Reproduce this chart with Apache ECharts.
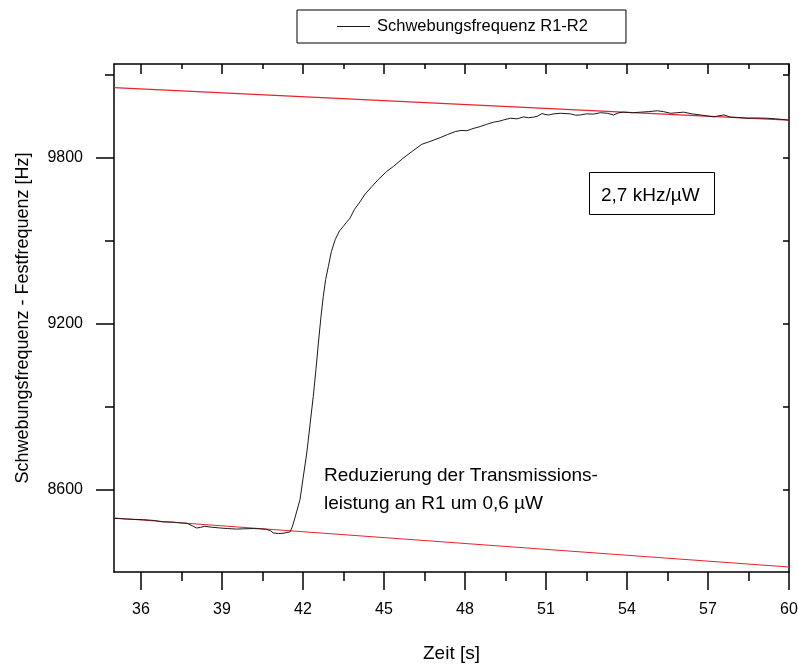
<!DOCTYPE html>
<html>
<head>
<meta charset="utf-8">
<script src="https://cdn.jsdelivr.net/npm/echarts@6/dist/echarts.min.js"></script>
<style>
  html, body { margin: 0; padding: 0; background: #fff; }
  #chart { width: 798px; height: 664px; }
</style>
</head>
<body>
<div id="chart"></div>
<script>
// Beat frequency R1-R2 measured over time (s, Hz)
const beatTime = [
  35.0, 35.5, 36.1, 36.5, 36.8, 37.2, 37.5, 37.7, 37.9, 38.06, 38.2, 38.36, 38.6, 38.92,
  39.2, 39.54, 39.8, 40.16, 40.4, 40.65, 40.8, 40.9, 41.1, 41.27, 41.52, 41.6, 41.7, 41.89,
  42.0, 42.14, 42.26, 42.38, 42.48, 42.57, 42.66, 42.75, 42.84, 42.94, 43.05, 43.19, 43.35,
  43.49, 43.6, 43.74, 43.9, 44.11, 44.3, 44.55, 44.8, 45.1, 45.35, 45.7, 46.05, 46.4, 46.7,
  47.08, 47.35, 47.64, 47.85, 48.07, 48.3, 48.56, 48.8, 49.06, 49.25, 49.43, 49.68, 49.93,
  50.17, 50.35, 50.54, 50.7, 50.85, 51.0, 51.1, 51.3, 51.53, 51.9, 52.1, 52.28, 52.5, 52.75,
  53.02, 53.27, 53.5, 53.7, 53.87, 54.2, 54.5, 54.8, 55.12, 55.35, 55.61, 55.85, 56.1, 56.4,
  56.72, 57.0, 57.22, 57.4, 57.59, 57.84, 58.1, 58.46, 58.8, 59.2, 59.5, 59.94, 60.0
];
const beatFreq = [
  8497, 8494, 8492, 8489, 8484, 8483, 8480, 8479, 8470, 8462, 8464, 8468, 8465, 8462,
  8460, 8458, 8459, 8460, 8459, 8457, 8452, 8444, 8442, 8443, 8448, 8465, 8498, 8565,
  8640, 8733, 8835, 8937, 9035, 9130, 9220, 9298, 9360, 9407, 9460, 9503, 9535,
  9551, 9565, 9581, 9612, 9640, 9668, 9695, 9722, 9750, 9768, 9797, 9823, 9848, 9858,
  9872, 9883, 9894, 9898, 9897, 9905, 9912, 9920, 9928, 9931, 9936, 9942, 9940,
  9947, 9944, 9946, 9950, 9959, 9955, 9954, 9958, 9960, 9958, 9953, 9954, 9958, 9957,
  9962, 9960, 9954, 9962, 9964, 9962, 9964, 9966, 9969, 9966, 9960, 9962, 9964, 9958,
  9954, 9950, 9947, 9951, 9954, 9946, 9945, 9942, 9943, 9942, 9940, 9936, 9935
];

// Linear drift fits before and after the step
const fitTime = [35, 60];
const fitUpper = [10053, 9935];
const fitLower = [8498, 8321];

// Axis ticks and labels
const xMajorTicks = [36, 39, 42, 45, 48, 51, 54, 57, 60];
const xMinorTicks = [37.5, 40.5, 43.5, 46.5, 49.5, 52.5, 55.5, 58.5];
const yMajorTicks = [8600, 9200, 9800];
const yMinorTicks = [8900, 9500, 10100];

const seriesName = 'Schwebungsfrequenz R1-R2';
const noteSlope = '2,7 kHz/µW';
const noteLines = ['Reduzierung der Transmissions-', 'leistung an R1 um 0,6 µW'];

const FONT = "'Liberation Sans', Arial, sans-serif";
const BLACK = '#000';
const RED = '#e8232a';
const CURVE = '#1a1a1a';

const zip = (xs, ys) => xs.map((x, i) => [x, ys[i]]);
const plain = v => String(v);

const X_MIN = 35, X_MAX = 60, Y_MIN = 8303, Y_MAX = 10138;

const axisLineStyle = { color: BLACK, width: 1.5 };

function xAxisOf(position, tickValues, length, inside, withLine, withLabel) {
  return {
    type: 'value', position, min: X_MIN, max: X_MAX,
    axisLine: { show: withLine, onZero: false, lineStyle: axisLineStyle },
    axisTick: { show: true, inside, length, customValues: tickValues, lineStyle: axisLineStyle },
    axisLabel: withLabel
      ? { show: true, customValues: tickValues, formatter: plain, fontSize: 16, color: BLACK, fontFamily: FONT, margin: 30 }
      : { show: false },
    splitLine: { show: false }
  };
}
function yAxisOf(position, tickValues, length, inside, withLine, withLabel) {
  return {
    type: 'value', position, min: Y_MIN, max: Y_MAX,
    axisLine: { show: withLine, onZero: false, lineStyle: axisLineStyle },
    axisTick: { show: true, inside, length, customValues: tickValues, lineStyle: axisLineStyle },
    axisLabel: withLabel
      ? { show: true, customValues: tickValues, formatter: plain, fontSize: 16, color: BLACK, fontFamily: FONT, margin: 31 }
      : { show: false },
    splitLine: { show: false }
  };
}

const xAxes = [
  Object.assign(xAxisOf('bottom', xMajorTicks, 18, false, true, true), {
    name: 'Zeit [s]', nameLocation: 'middle', nameGap: 72,
    nameTextStyle: { fontSize: 19, color: BLACK, fontFamily: FONT }
  }),
  xAxisOf('bottom', xMinorTicks, 9, false, false, false),
  xAxisOf('top', xMajorTicks, 10, true, true, false),
  xAxisOf('top', xMinorTicks, 5, true, false, false)
];
const yAxes = [
  Object.assign(yAxisOf('left', yMajorTicks, 18, false, true, true), {
    name: 'Schwebungsfrequenz - Festfrequenz [Hz]', nameLocation: 'middle', nameGap: 82,
    nameTextStyle: { fontSize: 18, color: BLACK, fontFamily: FONT }
  }),
  yAxisOf('left', yMinorTicks, 9, false, false, false),
  yAxisOf('right', yMajorTicks.concat(yMinorTicks), 6, true, true, false)
];

const chart = echarts.init(document.getElementById('chart'), null, { renderer: 'canvas' });

chart.setOption({
  backgroundColor: '#fff',
  animation: false,
  textStyle: { fontFamily: FONT },
  grid: { left: 114, right: 9, top: 64, bottom: 92, outerBoundsMode: 'none' },
  legend: {
    data: [{ name: seriesName, icon: 'rect' }],
    left: 297, top: 10,
    padding: [8, 38, 8, 40],
    borderColor: BLACK, borderWidth: 1,
    itemWidth: 33, itemHeight: 1,
    itemGap: 10,
    itemStyle: { color: CURVE, borderWidth: 0 },
    textStyle: { fontSize: 16.5, color: BLACK, fontFamily: FONT, padding: [8, 0, 8, 2] }
  },
  xAxis: xAxes,
  yAxis: yAxes,
  series: [
    {
      name: 'fitUpper', type: 'line', xAxisIndex: 0, yAxisIndex: 0,
      data: zip(fitTime, fitUpper), symbol: 'none', silent: true,
      lineStyle: { color: RED, width: 1.2 }, z: 2
    },
    {
      name: 'fitLower', type: 'line', xAxisIndex: 0, yAxisIndex: 0,
      data: zip(fitTime, fitLower), symbol: 'none', silent: true,
      lineStyle: { color: RED, width: 1.2 }, z: 2
    },
    {
      name: seriesName, type: 'line', xAxisIndex: 0, yAxisIndex: 0,
      data: zip(beatTime, beatFreq), symbol: 'none',
      lineStyle: { color: CURVE, width: 1 },
      itemStyle: { color: CURVE }, z: 3
    }
  ],
  graphic: [
    {
      type: 'rect', left: 589, top: 172,
      shape: { width: 125, height: 42 },
      style: { fill: '#fff', stroke: BLACK, lineWidth: 1 }
    },
    {
      type: 'text', left: 601, top: 186,
      style: { text: noteSlope, fontSize: 19, fill: BLACK, fontFamily: FONT }
    },
    {
      type: 'text', left: 324, top: 462,
      style: { text: noteLines.join('\n'), fontSize: 19, lineHeight: 28, fill: BLACK, fontFamily: FONT }
    }
  ]
});
</script>
</body>
</html>
